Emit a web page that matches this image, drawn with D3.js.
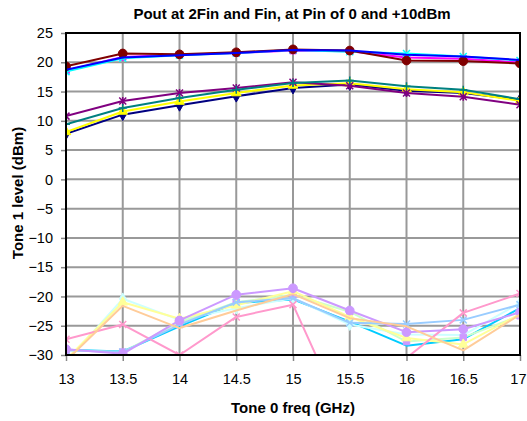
<!DOCTYPE html>
<html>
<head>
<meta charset="utf-8">
<script src="https://cdn.jsdelivr.net/npm/d3@7"></script>
<style>
  body { margin: 0; background: #fff; }
  svg { display: block; font-family: Arial, "Liberation Sans", sans-serif; }
</style>
</head>
<body>
<svg width="527" height="421"></svg>
<script>
const freqs = [13, 13.5, 14, 14.5, 15, 15.5, 16, 16.5, 17];
const xTicks = [13, 13.5, 14, 14.5, 15, 15.5, 16, 16.5, 17];
const yTicks = [25, 20, 15, 10, 5, 0, -5, -10, -15, -20, -25, -30];

// Fin, Pin = 0 dBm
const navy = [7.8, 11.05, 12.65, 14.2, 15.6, 16.2, 15.15, 14.75, 13.6];
const yellow = [8.1, 11.6, 13.3, 14.75, 16.05, 16.4, 15.4, 14.9, 13.4];
const purple = [10.8, 13.4, 14.75, 15.6, 16.6, 16.0, 14.75, 14.1, 12.75];
const teal = [9.4, 12.2, 13.9, 15.3, 16.45, 16.9, 15.9, 15.3, 13.7];

// Fin, Pin = +10 dBm
const magenta = [18.6, 20.9, 21.3, 21.6, 22.0, 21.9, 20.8, 20.6, 20.0];
const cyan = [18.4, 20.7, 21.2, 21.6, 22.1, 21.8, 21.5, 21.0, 20.3];
const darkRed = [19.3, 21.5, 21.35, 21.7, 22.2, 22.0, 20.3, 20.2, 19.8];
const blue = [18.7, 20.8, 21.2, 21.6, 22.1, 22.0, 21.3, 21.0, 20.4];

// 2Fin
const skyBlue = [-29.1, -29.4, -25.1, -21.1, -20.5, -24.3, -28.4, -27.3, -22.0];
const paleCyan = [-31.2, -20.4, -24.0, -22.0, -20.3, -24.8, -26.5, -26.6, -21.1];
const paleGreen = [-29.2, -29.5, -24.4, -21.0, -19.7, -22.6, -27.7, -27.0, -23.3];
const paleYellow = [-30.8, -21.0, -23.8, -21.5, -19.1, -23.5, -27.1, -28.2, -23.0];
const lightBlue = [-29.2, -29.5, -24.8, -21.0, -20.3, -24.5, -24.7, -24.0, -21.4];
const pink = [-27.3, -24.8, -30.0, -23.5, -21.4, -42.8, -30.5, -22.8, -19.5];
const lavender = [-29.0, -29.8, -24.1, -19.7, -18.6, -22.4, -26.1, -25.6, -22.7];
const peach = [-31.0, -21.6, -25.4, -22.4, -19.6, -23.7, -25.1, -29.2, -23.1];

const series = [
    { values: navy, color: "#000080", marker: "diamond", mfill: "#000080" },
    { values: magenta, color: "#ff00ff", marker: "square", mfill: "#ff00ff" },
    { values: yellow, color: "#ffff00", marker: "triangle", mfill: "#ffff00" },
    { values: cyan, color: "#00ffff", marker: "x", mfill: "#00ffff" },
    { values: purple, color: "#800080", marker: "star", mfill: "#800080" },
    { values: darkRed, color: "#800000", marker: "circle", mfill: "#800000" },
    { values: teal, color: "#008080", marker: "plus", mfill: "#008080" },
    { values: blue, color: "#0000ff", marker: "none", mfill: "#0000ff" },
    { values: skyBlue, color: "#00ccff", marker: "none", mfill: "#00ccff" },
    { values: paleCyan, color: "#ccffff", marker: "diamond", mfill: "#ccffff" },
    { values: paleGreen, color: "#ccffcc", marker: "square", mfill: "#cc99ff" },
    { values: paleYellow, color: "#ffff99", marker: "triangle", mfill: "#ffff99" },
    { values: lightBlue, color: "#99ccff", marker: "x", mfill: "#99ccff" },
    { values: pink, color: "#ff99cc", marker: "x", mfill: "#ff99cc" },
    { values: lavender, color: "#cc99ff", marker: "circle", mfill: "#cc99ff" },
    { values: peach, color: "#ffcc99", marker: "none", mfill: "#ffcc99" }
];

const margin = { top: 33, right: 7, bottom: 66, left: 66 };
const width = 527 - margin.left - margin.right;
const height = 421 - margin.top - margin.bottom;

const x = d3.scaleLinear().domain([13, 17]).range([0, width]);
const y = d3.scaleLinear().domain([-30, 25]).range([height, 0]);

const svg = d3.select("svg");

svg.append("text")
    .attr("x", 292)
    .attr("y", 19)
    .attr("text-anchor", "middle")
    .attr("font-size", 15)
    .attr("font-weight", "bold")
    .text("Pout at 2Fin and Fin, at Pin of 0 and +10dBm");

svg.append("text")
    .attr("x", 293)
    .attr("y", 413)
    .attr("text-anchor", "middle")
    .attr("font-size", 15)
    .attr("font-weight", "bold")
    .text("Tone 0 freq (GHz)");

svg.append("text")
    .attr("transform", "translate(23,193) rotate(-90)")
    .attr("text-anchor", "middle")
    .attr("font-size", 15)
    .attr("font-weight", "bold")
    .text("Tone 1 level (dBm)");

const g = svg.append("g")
    .attr("transform", "translate(" + margin.left + "," + margin.top + ")");

svg.append("defs").append("clipPath")
    .attr("id", "plot")
    .append("rect")
        .attr("x", 0)
        .attr("y", 0)
        .attr("width", width)
        .attr("height", height);

// grid
g.append("g")
    .selectAll("line")
    .data(yTicks)
    .enter().append("line")
        .attr("x1", 0)
        .attr("x2", width)
        .attr("y1", y)
        .attr("y2", y)
        .attr("stroke", "#999")
        .attr("stroke-width", 2);

g.append("g")
    .selectAll("line")
    .data(xTicks)
    .enter().append("line")
        .attr("x1", x)
        .attr("x2", x)
        .attr("y1", 0)
        .attr("y2", height)
        .attr("stroke", "#999")
        .attr("stroke-width", 2);

// axes
const yAxis = g.append("g")
    .call(d3.axisLeft(y).tickValues(yTicks).tickSize(5).tickPadding(8));
const xAxis = g.append("g")
    .attr("transform", "translate(0," + height + ")")
    .call(d3.axisBottom(x).tickValues(xTicks).tickSize(6).tickPadding(13)
        .tickFormat(d3.format("")));

[yAxis, xAxis].forEach((a) => {
    a.select(".domain").remove();
    a.selectAll(".tick line").attr("stroke", "#888").attr("stroke-width", 1.5);
    a.selectAll("text")
        .attr("font-family", "Arial, 'Liberation Sans', sans-serif")
        .attr("font-size", 14.5)
        .attr("fill", "#000");
});

// last x label sits at the window edge, keep it inside
xAxis.selectAll(".tick text")
    .filter((d) => d === 17)
    .attr("text-anchor", "end")
    .attr("x", 6);

const markerPath = (type) => {
    switch (type) {
        case "diamond": return d3.symbol(d3.symbolDiamond, 40)();
        case "square": return d3.symbol(d3.symbolSquare, 42)();
        case "triangle": return d3.symbol(d3.symbolTriangle, 40)();
        case "circle": return d3.symbol(d3.symbolCircle, 60)();
        case "x": return "M-3.5,-3.5L3.5,3.5M-3.5,3.5L3.5,-3.5";
        case "star": return "M-3.5,-3.5L3.5,3.5M-3.5,3.5L3.5,-3.5M0,-4L0,4";
        case "plus": return "M-4,0L4,0M0,-4L0,4";
    }
    return null;
};

const line = d3.line()
    .x((d, i) => x(freqs[i]))
    .y((d) => y(d));

const plot = g.append("g").attr("clip-path", "url(#plot)");

series.forEach((s) => {
    plot.append("path")
        .datum(s.values)
        .attr("fill", "none")
        .attr("stroke", s.color)
        .attr("stroke-width", 2)
        .attr("stroke-linejoin", "round")
        .attr("d", line);

    const path = markerPath(s.marker);
    if (!path) return;
    const stroked = ["x", "star", "plus"].includes(s.marker);
    plot.append("g")
        .selectAll("path")
        .data(s.values)
        .enter().append("path")
            .attr("transform", (d, i) => "translate(" + x(freqs[i]) + "," + y(d) + ")")
            .attr("d", path)
            .attr("fill", stroked ? "none" : s.mfill)
            .attr("stroke", s.mfill)
            .attr("stroke-width", stroked ? 1.5 : 1);
});

// plot border
g.append("rect")
    .attr("x", 0)
    .attr("y", 0)
    .attr("width", width)
    .attr("height", height)
    .attr("fill", "none")
    .attr("stroke", "#000")
    .attr("stroke-width", 2);
</script>
</body>
</html>
